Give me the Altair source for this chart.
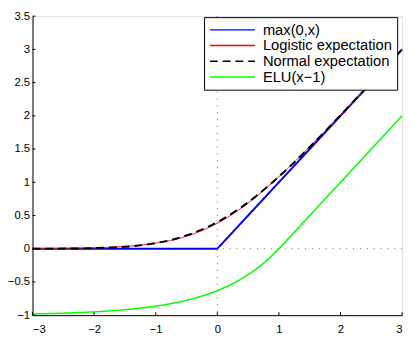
import altair as alt
import pandas as pd

# sample positions
xs = [-3.0, -2.8, -2.6, -2.4, -2.2, -2.0, -1.8, -1.6, -1.4, -1.2, -1.0, -0.8, -0.6, -0.4, -0.2,
      0.0, 0.2, 0.4, 0.6, 0.8, 1.0, 1.2, 1.4, 1.6, 1.8, 2.0, 2.2, 2.4, 2.6, 2.8, 3.0]

relu = [0, 0, 0, 0, 0, 0, 0, 0, 0, 0, 0, 0, 0, 0, 0,
        0.0, 0.2, 0.4, 0.6, 0.8, 1.0, 1.2, 1.4, 1.6, 1.8, 2.0, 2.2, 2.4, 2.6, 2.8, 3.0]

logistic = [0.0024, 0.0034, 0.0049, 0.0070, 0.0101, 0.0145, 0.0207, 0.0295, 0.0419, 0.0592,
            0.0833, 0.1161, 0.1600, 0.2177, 0.2912,
            0.3822, 0.4912, 0.6177, 0.7600, 0.9161, 1.0833, 1.2592, 1.4419, 1.6295, 1.8207,
            2.0145, 2.2101, 2.4070, 2.6049, 2.8034, 3.0024]

normal = [0.0004, 0.0008, 0.0015, 0.0027, 0.0049, 0.0085, 0.0143, 0.0232, 0.0367, 0.0561,
          0.0833, 0.1202, 0.1687, 0.2304, 0.3069,
          0.3989, 0.5069, 0.6304, 0.7687, 0.9202, 1.0833, 1.2561, 1.4367, 1.6232, 1.8143,
          2.0085, 2.2049, 2.4027, 2.6015, 2.8008, 3.0004]

elu = [-0.9817, -0.9776, -0.9727, -0.9666, -0.9592, -0.9502, -0.9392, -0.9257, -0.9093, -0.8892,
       -0.8647, -0.8347, -0.7981, -0.7534, -0.6988,
       -0.6321, -0.5507, -0.4512, -0.3297, -0.1813, 0.0, 0.2, 0.4, 0.6, 0.8,
       1.0, 1.2, 1.4, 1.6, 1.8, 2.0]

series_names = ["max(0,x)", "Logistic expectation", "Normal expectation", "ELU(x\u22121)"]
series_colors = ["#0000ff", "#ff0000", "#000000", "#00ff00"]
series_dashes = [[1, 0], [1, 0], [8, 5], [1, 0]]
series_widths = [2, 1, 2, 1.5]

x_ticks = [-3, -2, -1, 0, 1, 2, 3]
y_ticks = [-1, -0.5, 0, 0.5, 1, 1.5, 2, 2.5, 3, 3.5]

rows = []
for name, vals in zip(series_names, [relu, logistic, normal, elu]):
    for xv, yv in zip(xs, vals):
        rows.append({"x": xv, "y": yv, "series": name})
df = pd.DataFrame(rows)

W, H = 377, 305

legend = alt.Legend(
    title=None, orient="none", legendX=175, legendY=1,
    fillColor="white", strokeColor="black", padding=5,
    symbolType="stroke", symbolSize=2116, symbolStrokeWidth=1.5,
    labelFont="Liberation Sans", labelFontSize=15, labelColor="black",
    labelOffset=7, rowPadding=0, clipHeight=16,
)

color_scale = alt.Scale(domain=series_names, range=series_colors)
dash_scale = alt.Scale(domain=series_names, range=series_dashes)

x_scale = alt.Scale(domain=[-3, 3], nice=False, zero=False)
y_scale = alt.Scale(domain=[-1, 3.5], nice=False, zero=False)

x_axis = alt.Axis(values=x_ticks, format="~g", ticks=False, grid=False, title=None,
                  labelPadding=9, labelOverlap=False, domainColor="black",
                  labelColor="black", labelFont="Liberation Sans", labelFontSize=11.5)
y_axis = alt.Axis(values=y_ticks, format="~g", ticks=False, grid=False, title=None,
                  labelPadding=3, labelOverlap=False, domainColor="black",
                  labelColor="black", labelFont="Liberation Sans", labelFontSize=11.5)

lines = []
for name, w in zip(series_names, series_widths):
    lines.append(
        alt.Chart(df).transform_filter(alt.datum.series == name)
        .mark_line(strokeWidth=w)
        .encode(
            x=alt.X("x:Q", scale=x_scale, axis=x_axis),
            y=alt.Y("y:Q", scale=y_scale, axis=y_axis),
            color=alt.Color("series:N", scale=color_scale, legend=legend),
            strokeDash=alt.StrokeDash("series:N", scale=dash_scale, legend=legend),
        )
    )

zero_v = alt.Chart(pd.DataFrame({"x": [0]})).mark_rule(
    color="#666", strokeDash=[1, 6], strokeWidth=1).encode(
    x=alt.X("x:Q", scale=x_scale, axis=x_axis))
zero_h = alt.Chart(pd.DataFrame({"y": [0]})).mark_rule(
    color="#666", strokeDash=[1, 6], strokeWidth=1).encode(
    y=alt.Y("y:Q", scale=y_scale, axis=y_axis))

yt = alt.Chart(pd.DataFrame({"y": y_ticks})).mark_rule(color="black", strokeWidth=1).encode(
    y=alt.Y("y:Q", scale=y_scale, axis=y_axis), x=alt.value(0), x2=alt.value(3))
xt = alt.Chart(pd.DataFrame({"x": x_ticks})).mark_rule(color="black", strokeWidth=1).encode(
    x=alt.X("x:Q", scale=x_scale, axis=x_axis), y=alt.value(H), y2=alt.value(H - 3))

chart = alt.layer(zero_v, zero_h, *lines, yt, xt).properties(
    width=W, height=H,
    autosize=alt.AutoSizeParams(type="none"),
    padding={"left": 25, "top": 5, "right": 5, "bottom": 22},
).configure_view(stroke=None).configure(background="white")

chart.save("out.html", embed_options={"renderer": "svg", "actions": False})
